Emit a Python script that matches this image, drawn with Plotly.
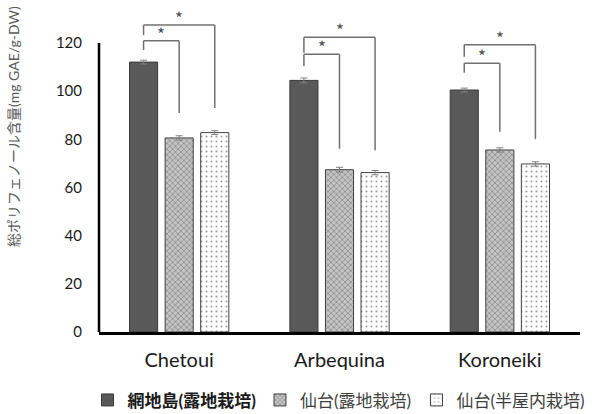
import plotly.graph_objects as go

categories = ["Chetoui", "Arbequina", "Koroneiki"]
series_names = ["網地島(露地栽培)", "仙台(露地栽培)", "仙台(半屋内栽培)"]
amijima_open = [112.1, 104.5, 100.5]
sendai_open = [80.6, 67.4, 75.6]
sendai_semi = [82.8, 66.2, 69.8]
amijima_err = [0.8, 1.0, 0.8]
sendai_open_err = [0.9, 1.0, 0.9]
sendai_semi_err = [0.8, 0.9, 0.9]
y_ticks = [0, 20, 40, 60, 80, 100, 120]
y_title = "総ポリフェノール含量(mg GAE/g-DW)"

# significance brackets: (category index, target bar index, bracket level, left end, right end)
brackets = [
    (0, 1, 121.0, 117.1, 91.0),
    (0, 2, 127.5, 123.3, 93.0),
    (1, 1, 115.4, 110.5, 76.1),
    (1, 2, 122.4, 116.0, 75.5),
    (2, 1, 111.6, 107.7, 83.2),
    (2, 2, 119.3, 114.3, 80.1),
]

FONT = "Lato, 'Noto Sans CJK JP', sans-serif"
bargap = 0.334
slot = (1 - bargap) / 3

fig = go.Figure()
fig.add_trace(go.Bar(
    x=categories, y=amijima_open, name="<b>" + series_names[0] + "</b>", legend="legend",
    marker=dict(color="#595959", line=dict(color="#3a3a3a", width=1)),
    error_y=dict(type="data", array=amijima_err, color="#808080", thickness=1, width=3.5),
))
fig.add_trace(go.Bar(
    x=categories, y=sendai_open, name=series_names[1], legend="legend2",
    marker=dict(color="white", line=dict(color="#404040", width=1),
                pattern=dict(shape="x", fgcolor="#606060", bgcolor="#c4c4c4", size=4, solidity=0.4)),
    error_y=dict(type="data", array=sendai_open_err, color="#808080", thickness=1, width=3.5),
))
fig.add_trace(go.Bar(
    x=categories, y=sendai_semi, name=series_names[2], legend="legend3",
    marker=dict(color="white", line=dict(color="#404040", width=1),
                pattern=dict(shape=".", fgcolor="#303030", bgcolor="white", size=5, solidity=0.12)),
    error_y=dict(type="data", array=sendai_semi_err, color="#808080", thickness=1, width=3.5),
))

line_style = dict(color="#707070", width=1.5)
for ci, bi, level, lbot, rbot in brackets:
    xl = ci - slot
    xr = ci + (bi - 1) * slot
    fig.add_shape(type="line", xref="x", yref="y", x0=xl, x1=xl, y0=lbot, y1=level, line=line_style)
    fig.add_shape(type="line", xref="x", yref="y", x0=xl, x1=xr, y0=level, y1=level, line=line_style)
    fig.add_shape(type="line", xref="x", yref="y", x0=xr, x1=xr, y0=level, y1=rbot, line=line_style)
    fig.add_annotation(x=(xl + xr) / 2, y=level, xref="x", yref="y", text="*",
                       showarrow=False, yanchor="bottom", yshift=-7,
                       font=dict(family="'Noto Sans CJK JP', sans-serif", size=17, color="#505050"))

# left axis line (only up to the top tick)
fig.add_shape(type="line", xref="paper", yref="y", x0=0, x1=0, y0=0, y1=120,
              line=dict(color="black", width=2.5))

fig.add_annotation(text=y_title, xref="paper", yref="paper", x=-0.1767, y=0.655,
                   textangle=-90, showarrow=False, xanchor="center", yanchor="middle",
                   font=dict(family=FONT, size=14, color="#595959"))

leg_common = dict(orientation="h", xanchor="left", y=-0.2185, yanchor="middle",
                  itemwidth=30, bgcolor="rgba(0,0,0,0)")
fig.update_layout(
    width=592, height=414,
    margin=dict(l=99, r=12, t=19, b=81.5, autoexpand=False),
    paper_bgcolor="white", plot_bgcolor="white",
    barmode="group", bargap=bargap, bargroupgap=0.21,
    showlegend=True,
    legend=dict(x=-0.0239, font=dict(family=FONT, size=17, color="#1a1a1a"), **leg_common),
    legend2=dict(x=0.3347, font=dict(family=FONT, size=17, color="#404040"), **leg_common),
    legend3=dict(x=0.6600, font=dict(family=FONT, size=17, color="#404040"), **leg_common),
    font=dict(family=FONT),
)
fig.update_xaxes(showline=True, linecolor="black", linewidth=2.5, ticks="",
                 tickfont=dict(family=FONT, size=20, color="#1a1a1a"),
                 ticklabelstandoff=8, showgrid=False, automargin=False)
fig.update_yaxes(range=[0, 130], tickvals=y_ticks, showline=False, showgrid=False,
                 zeroline=False, ticks="", automargin=False,
                 tickfont=dict(family=FONT, size=15, color="#1a1a1a"),
                 ticklabelstandoff=16)

# remove the default 8px page margin so the figure sits at the window's corner
fig.write_html("out.html", config={"displayModeBar": False},
               post_script="document.body.style.margin='0';")
